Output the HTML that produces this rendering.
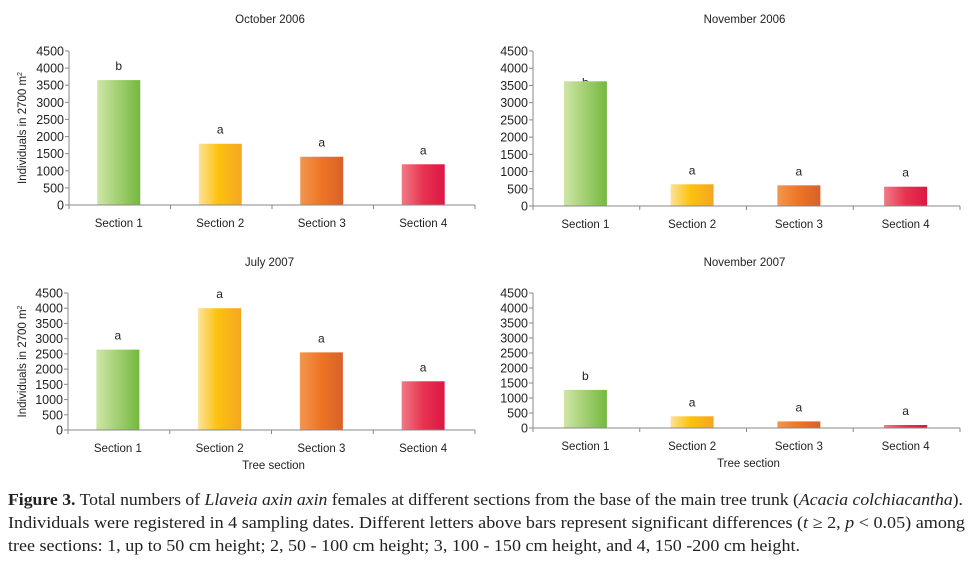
<!DOCTYPE html>
<html><head><meta charset="utf-8"><style>
html,body{margin:0;padding:0;background:#fff;width:973px;height:571px;overflow:hidden}
svg text{font-family:"Liberation Sans",sans-serif;fill:#222}
</style></head><body>
<svg id="fig" width="973" height="571" viewBox="0 0 973 571" xmlns="http://www.w3.org/2000/svg">
<defs>
<linearGradient id="g0" x1="0" x2="1"><stop offset="0" stop-color="#cfe6a6"/><stop offset="1" stop-color="#74b83e"/></linearGradient>
<linearGradient id="g1" x1="0" x2="1"><stop offset="0" stop-color="#fde29a"/><stop offset="0.45" stop-color="#fcc20e"/><stop offset="1" stop-color="#f5a623"/></linearGradient>
<linearGradient id="g2" x1="0" x2="1"><stop offset="0" stop-color="#f3964e"/><stop offset="0.5" stop-color="#ee7424"/><stop offset="1" stop-color="#d8612a"/></linearGradient>
<linearGradient id="g3" x1="0" x2="1"><stop offset="0" stop-color="#f07a86"/><stop offset="0.5" stop-color="#e83350"/><stop offset="1" stop-color="#dc1744"/></linearGradient>
</defs>
<g id="charts"></g>
<g font-size="16.5">
<text x="8" y="505" textLength="955" lengthAdjust="spacingAndGlyphs" style="font-family:'Liberation Serif',serif"><tspan font-weight="bold">Figure 3.</tspan> Total numbers of <tspan font-style="italic">Llaveia axin axin</tspan> females at different sections from the base of the main tree trunk (<tspan font-style="italic">Acacia colchiacantha</tspan>).</text>
<text x="8" y="528" textLength="957" lengthAdjust="spacingAndGlyphs" style="font-family:'Liberation Serif',serif">Individuals were registered in 4 sampling dates. Different letters above bars represent significant differences (<tspan font-style="italic">t</tspan> ≥ 2, <tspan font-style="italic">p</tspan> &lt; 0.05) among</text>
<text x="8" y="551" textLength="792" lengthAdjust="spacingAndGlyphs" style="font-family:'Liberation Serif',serif">tree sections: 1, up to 50 cm height; 2, 50 - 100 cm height; 3, 100 - 150 cm height, and 4, 150 -200 cm height.</text>
</g>
</svg>
<script>
const categories = ["Section 1","Section 2","Section 3","Section 4"];
const titles = ["October 2006","November 2006","July 2007","November 2007"];
const oct2006 = [3650, 1790, 1410, 1190];
const nov2006 = [3620, 630, 600, 560];
const jul2007 = [2640, 4000, 2550, 1600];
const nov2007 = [1270, 390, 220, 100];
const letters = [["b","a","a","a"],["b","a","a","a"],["a","a","a","a"],["b","a","a","a"]];
const yTicks = [0,500,1000,1500,2000,2500,3000,3500,4000,4500];
const series = [oct2006, nov2006, jul2007, nov2007];
const yMax = 4500;

const NS = "http://www.w3.org/2000/svg";
const root = document.getElementById("charts");
function mk(tag, attrs, parent){const e=document.createElementNS(NS,tag);for(const k in attrs)e.setAttribute(k,attrs[k]);parent.appendChild(e);return e;}
const frames = [
 {x0:69,x1:475,yTop:51,y0:205,ty:23,lx:true,tree:false,hide:false},
 {x0:533,x1:960,yTop:51,y0:206,ty:23,lx:false,tree:false,hide:true},
 {x0:68,x1:475,yTop:293,y0:430,ty:266,lx:true,tree:true,hide:false},
 {x0:533,x1:960,yTop:293,y0:428,ty:266,lx:false,tree:true,hide:false}
];
frames.forEach((f,pi)=>{
  const g=mk("g",{},root);
  
  
  const yS=v=>f.y0-(v/yMax)*(f.y0-f.yTop);
  const band=(f.x1-f.x0)/categories.length;
  const xC=i=>f.x0+band*(i+0.5);
  const t=mk("text",{x:(f.x0+f.x1)/2-2,y:f.ty,"text-anchor":"middle","font-size":"11.5"},g);t.textContent=titles[pi];
  
  
  yTicks.forEach(v=>{
    mk("line",{x1:f.x0-4,x2:f.x0,y1:yS(v),y2:yS(v),stroke:"#888"},g);
    const l=mk("text",{x:f.x0-5,y:yS(v)+4.5,"text-anchor":"end","font-size":"12.5"},g);l.textContent=v;
    
    
  });
  for(let i=0;i<=categories.length;i++){mk("line",{x1:f.x0+band*i,x2:f.x0+band*i,y1:f.y0,y2:f.y0+4,stroke:"#888"},g);}
  series[pi].forEach((v,i)=>{
    const off=(f.hide&&i===0)?5:-10;
    const lt=mk("text",{x:xC(i)-1,y:yS(v)+off,"text-anchor":"middle","font-size":"12"},g);lt.textContent=letters[pi][i];
    
    
  });
  series[pi].forEach((v,i)=>{
    const w=43;
    const r=mk("rect",{x:xC(i)-w/2-1,y:yS(v),width:w,height:f.y0-yS(v),fill:"url(#g"+i+")"},g);
    
    
    const c=mk("text",{x:xC(i)-1,y:f.y0+22,"text-anchor":"middle","font-size":"11.5"},g);c.textContent=categories[i];
    
    
  });
  mk("line",{x1:f.x0,x2:f.x0,y1:f.yTop,y2:f.y0,stroke:"#888"},g);
  mk("line",{x1:f.x0,x2:f.x1,y1:f.y0,y2:f.y0,stroke:"#888"},g);
  if(f.lx){
    const cy=(f.yTop+f.y0)/2;
    const yl=mk("text",{x:0,y:0,"text-anchor":"middle","font-size":"11.5",transform:"translate(26,"+cy+") rotate(-90)"},g);
    yl.innerHTML='Individuals in 2700 m<tspan dy="-4" font-size="7">2</tspan>';
    
    
  }
  if(f.tree){
    const xl=mk("text",{x:(f.x0+f.x1)/2+2,y:f.y0+39,"text-anchor":"middle","font-size":"11.5"},g);xl.textContent="Tree section";
    
    
  }
});
</script>
</body></html>
